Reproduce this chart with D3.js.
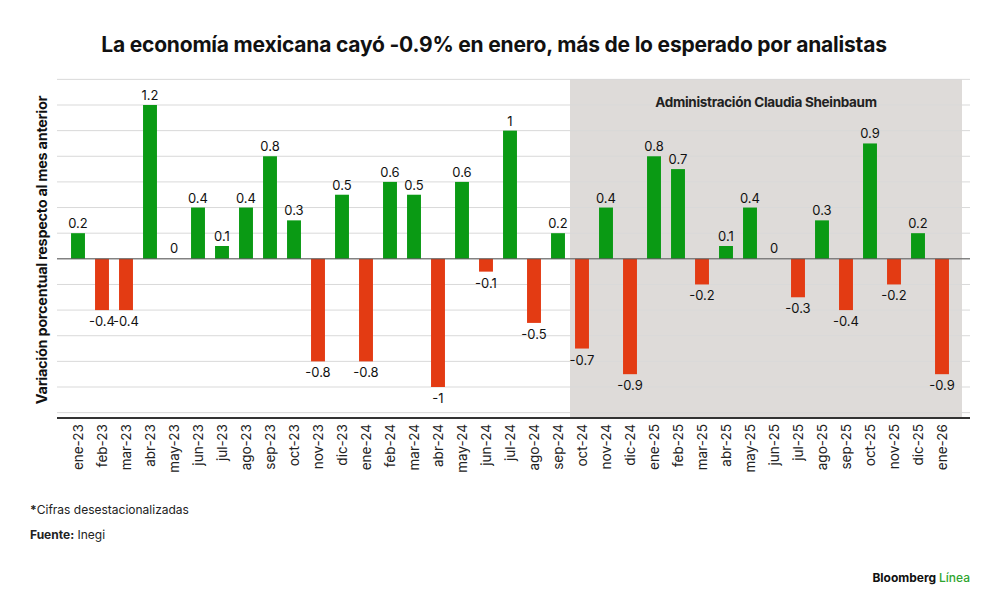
<!DOCTYPE html>
<html>
<head>
<meta charset="utf-8">
<script src="https://cdnjs.cloudflare.com/ajax/libs/d3/7.8.5/d3.min.js"></script>
<style>
body{margin:0;background:#fff;font-family:Inter, "Liberation Sans", sans-serif;}
</style>
</head>
<body>
<svg id="c" width="1000" height="605"></svg>
<script>
var months = ["ene-23","feb-23","mar-23","abr-23","may-23","jun-23","jul-23","ago-23","sep-23","oct-23","nov-23","dic-23",
  "ene-24","feb-24","mar-24","abr-24","may-24","jun-24","jul-24","ago-24","sep-24","oct-24","nov-24","dic-24",
  "ene-25","feb-25","mar-25","abr-25","may-25","jun-25","jul-25","ago-25","sep-25","oct-25","nov-25","dic-25","ene-26"];
var values = [0.2,-0.4,-0.4,1.2,0,0.4,0.1,0.4,0.8,0.3,-0.8,0.5,
  -0.8,0.6,0.5,-1,0.6,-0.1,1,-0.5,0.2,-0.7,0.4,-0.9,
  0.8,0.7,-0.2,0.1,0.4,0,-0.3,0.3,-0.4,0.9,-0.2,0.2,-0.9];
var gridTicks = [1.4,1.2,1,0.8,0.6,0.4,0.2,0,-0.2,-0.4,-0.6,-0.8,-1,-1.2];
var shadeStart = "oct-24";

var svg = d3.select("#c");
var x = d3.scaleBand().domain(months).range([66, 954]).paddingInner(0.42).paddingOuter(0.21);
var y = d3.scaleLinear().domain([-1, 1.2]).range([387, 105]);

svg.append("text").attr("x", 494).attr("y", 52).attr("text-anchor", "middle")
  .attr("font-size", 21).attr("font-weight", 700).attr("fill", "#111").attr("letter-spacing", -0.2)
  .text("La economía mexicana cayó -0.9% en enero, más de lo esperado por analistas");

var bw = x.step();
var sx = x(shadeStart) - (bw - x.bandwidth()) / 2;
svg.append("rect").attr("x", sx).attr("y", 79).attr("width", 962 - sx).attr("height", y(-1.2) - 79 + 5)
  .attr("fill", "#dedbd9");

svg.append("g").selectAll("line").data(gridTicks).join("line")
  .attr("x1", 57).attr("x2", 970).attr("y1", d => y(d)).attr("y2", d => y(d))
  .attr("stroke", "#d9d9d9").attr("stroke-width", 1);

svg.append("text").attr("x", sx + (962 - sx) / 2).attr("y", 107).attr("text-anchor", "middle")
  .attr("font-size", 13.5).attr("font-weight", 700).attr("fill", "#222").attr("letter-spacing", -0.3)
  .text("Administración Claudia Sheinbaum");

svg.append("g").selectAll("rect").data(values).join("rect")
  .attr("x", (d, i) => x(months[i])).attr("width", x.bandwidth())
  .attr("y", d => y(Math.max(0, d))).attr("height", d => Math.abs(y(d) - y(0)))
  .attr("fill", d => d >= 0 ? "#0a9a14" : "#e33b13");

svg.append("line").attr("x1", 57).attr("x2", 970).attr("y1", y(0)).attr("y2", y(0))
  .attr("stroke", "#555").attr("stroke-width", 1);

svg.append("g").selectAll("text").data(values).join("text")
  .attr("x", (d, i) => x(months[i]) + x.bandwidth() / 2)
  .attr("y", d => d > 0 ? y(d) - 5 : (d == 0 ? y(0) - 6 : y(d) + 16))
  .attr("text-anchor", "middle").attr("font-size", 13).attr("fill", "#111")
  .text(d => String(d));

var axis = svg.append("g").attr("transform", "translate(0,418)")
  .call(d3.axisBottom(x).tickSize(0).tickPadding(6));
axis.select(".domain").attr("d", "M57,0H970").attr("stroke", "#333").attr("stroke-width", 2);
axis.selectAll("text").attr("font-size", 13.5).attr("fill", "#222").attr("font-family", "Inter, sans-serif")
  .attr("transform", "rotate(-90)").attr("text-anchor", "end").attr("dx", "-0.45em").attr("dy", "0.35em")
  .attr("x", 0).attr("y", 0);

svg.append("text").attr("transform", "translate(47,250) rotate(-90)").attr("text-anchor", "middle")
  .attr("font-size", 14.5).attr("font-weight", 700).attr("fill", "#111").attr("letter-spacing", -0.3)
  .text("Variación porcentual respecto al mes anterior");

svg.append("text").attr("x", 30).attr("y", 514).attr("font-size", 12).attr("fill", "#222")
  .html('<tspan font-weight="700">*</tspan>Cifras desestacionalizadas');
svg.append("text").attr("x", 30).attr("y", 539).attr("font-size", 12).attr("fill", "#222")
  .html('<tspan font-weight="700">Fuente:</tspan> Inegi');
svg.append("text").attr("x", 970).attr("y", 582).attr("text-anchor", "end").attr("font-size", 12)
  .attr("font-weight", 700).attr("fill", "#111")
  .html('Bloomberg <tspan fill="#2fa52f" font-weight="500">Línea</tspan>');
</script>
</body>
</html>
